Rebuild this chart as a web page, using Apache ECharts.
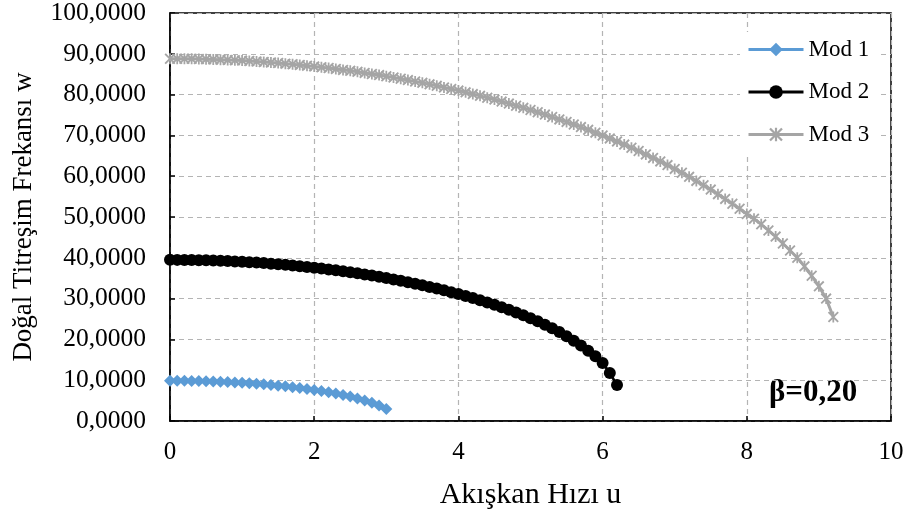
<!DOCTYPE html>
<html>
<head>
<meta charset="utf-8">
<script src="https://cdn.jsdelivr.net/npm/echarts@6/dist/echarts.min.js"></script>
<style>
  html, body { margin: 0; padding: 0; background: #fff; }
  #chart { width: 912px; height: 519px; }
</style>
</head>
<body>
<div id="chart"></div>
<script>
// Flow speed samples (shared by all modes; each mode uses the first N entries)
const speed = [
  0.0, 0.1, 0.2, 0.3, 0.4, 0.5, 0.6, 0.7, 0.8, 0.9,
  1.0, 1.1, 1.2, 1.3, 1.4, 1.5, 1.6, 1.7, 1.8, 1.9,
  2.0, 2.1, 2.2, 2.3, 2.4, 2.5, 2.6, 2.7, 2.8, 2.9,
  3.0, 3.1, 3.2, 3.3, 3.4, 3.5, 3.6, 3.7, 3.8, 3.9,
  4.0, 4.1, 4.2, 4.3, 4.4, 4.5, 4.6, 4.7, 4.8, 4.9,
  5.0, 5.1, 5.2, 5.3, 5.4, 5.5, 5.6, 5.7, 5.8, 5.9,
  6.0, 6.1, 6.2, 6.3, 6.4, 6.5, 6.6, 6.7, 6.8, 6.9,
  7.0, 7.1, 7.2, 7.3, 7.4, 7.5, 7.6, 7.7, 7.8, 7.9,
  8.0, 8.1, 8.2, 8.3, 8.4, 8.5, 8.6, 8.7, 8.8, 8.9,
  9.0, 9.1, 9.2
];

// Natural frequencies per mode
const mod1 = [
  9.87, 9.87, 9.85, 9.83, 9.79, 9.74, 9.69, 9.62, 9.54, 9.46,
  9.36, 9.25, 9.12, 8.99, 8.84, 8.67, 8.49, 8.30, 8.09, 7.86,
  7.61, 7.34, 7.05, 6.72, 6.37, 5.98, 5.54, 5.05, 4.48, 3.80,
  2.93
];
const mod2 = [
  39.50, 39.49, 39.48, 39.45, 39.42, 39.38, 39.33, 39.27, 39.20, 39.12,
  39.03, 38.93, 38.82, 38.70, 38.57, 38.43, 38.28, 38.12, 37.95, 37.77,
  37.58, 37.37, 37.16, 36.94, 36.70, 36.45, 36.19, 35.92, 35.64, 35.34,
  35.03, 34.70, 34.37, 34.02, 33.65, 33.27, 32.87, 32.46, 32.03, 31.58,
  31.11, 30.63, 30.12, 29.60, 29.05, 28.47, 27.88, 27.25, 26.60, 25.92,
  25.20, 24.42, 23.60, 22.73, 21.80, 20.78, 19.67, 18.48, 17.23, 15.85,
  14.24, 11.77, 8.80
];
const mod3 = [
  88.80, 88.79, 88.78, 88.76, 88.72, 88.68, 88.63, 88.57, 88.50, 88.42,
  88.33, 88.23, 88.12, 88.00, 87.88, 87.74, 87.59, 87.44, 87.27, 87.09,
  86.91, 86.71, 86.51, 86.29, 86.06, 85.83, 85.58, 85.32, 85.06, 84.78,
  84.49, 84.19, 83.88, 83.55, 83.22, 82.88, 82.52, 82.15, 81.77, 81.38,
  80.98, 80.56, 80.13, 79.69, 79.23, 78.77, 78.29, 77.79, 77.28, 76.76,
  76.22, 75.67, 75.10, 74.52, 73.92, 73.31, 72.68, 72.03, 71.36, 70.68,
  69.98, 69.26, 68.52, 67.75, 66.97, 66.17, 65.34, 64.49, 63.62, 62.72,
  61.79, 60.84, 59.85, 58.84, 57.79, 56.71, 55.60, 54.44, 53.25, 52.01,
  50.72, 49.60, 48.20, 46.70, 45.20, 43.50, 41.80, 40.00, 37.90, 35.60,
  33.00, 30.00, 25.50
];

const seriesNames = ['Mod 1', 'Mod 2', 'Mod 3'];
const yTickLabels = ['0,0000', '10,0000', '20,0000', '30,0000', '40,0000', '50,0000',
                     '60,0000', '70,0000', '80,0000', '90,0000', '100,0000'];
const xTickLabels = ['0', '2', '4', '6', '8', '10'];
const xTitle = 'Akışkan Hızı u';
const yTitle = 'Doğal Titreşim Frekansı w';
const betaLabel = 'β=0,20';

const FONT = '"Liberation Serif", "Times New Roman", serif';

// Asterisk marker built from three filled bars (vertical + two diagonals)
const asterisk = 'path://M4.2,0 H5.8 V10 H4.2 Z M0,1.2 L1.2,0 L10,8.8 L8.8,10 Z M8.8,0 L10,1.2 L1.2,10 L0,8.8 Z';

function pairs(values) {
  return values.map((v, i) => [speed[i], v]);
}

const chart = echarts.init(document.getElementById('chart'), null, { renderer: 'canvas' });

const gridLine = { show: true, lineStyle: { color: '#b4b4b4', width: 1.2, type: [5, 4] } };

chart.setOption({
  animation: false,
  backgroundColor: '#fff',
  grid: {
    left: 170, right: 21, top: 12, bottom: 98,
    show: true, borderColor: '#000', borderWidth: 1.5, backgroundColor: 'transparent'
  },
  xAxis: {
    type: 'value', min: 0, max: 10, interval: 2,
    name: xTitle, nameLocation: 'middle', nameGap: 59,
    nameTextStyle: { fontFamily: FONT, fontSize: 30, color: '#000' },
    axisLine: { show: true, lineStyle: { color: '#000', width: 1.5 } },
    axisTick: { show: true, inside: true, length: 5, lineStyle: { color: '#000', width: 1.5 } },
    axisLabel: {
      margin: 19, fontFamily: FONT, fontSize: 25, color: '#000',
      formatter: v => xTickLabels[Math.round(v / 2)]
    },
    splitLine: gridLine
  },
  yAxis: {
    type: 'value', min: 0, max: 100, interval: 10,
    name: yTitle, nameLocation: 'middle', nameGap: 133,
    nameTextStyle: { fontFamily: FONT, fontSize: 27, color: '#000' },
    axisLine: { show: true, lineStyle: { color: '#000', width: 1.5 } },
    axisTick: { show: true, inside: true, length: 5, lineStyle: { color: '#000', width: 1.5 } },
    axisLabel: {
      margin: 24, fontFamily: FONT, fontSize: 25.5, color: '#000',
      formatter: v => yTickLabels[Math.round(v / 10)]
    },
    splitLine: gridLine
  },
  legend: {
    data: seriesNames,
    orient: 'vertical',
    left: 740, top: 32,
    padding: [6, 8, 8, 7],
    backgroundColor: '#fff',
    itemWidth: 55, itemHeight: 17, itemGap: 19.5,
    lineStyle: { width: 3 },
    textStyle: { fontFamily: FONT, fontSize: 23, color: '#000' }
  },
  graphic: [{
    type: 'text', left: 769, top: 377,
    style: { text: betaLabel, fontFamily: FONT, fontSize: 31, fontWeight: 'bold', fill: '#000' }
  }],
  series: [
    {
      name: seriesNames[0], type: 'line', data: pairs(mod1),
      symbol: 'diamond', symbolSize: [12, 12], showAllSymbol: true,
      itemStyle: { color: '#5b9bd5' },
      lineStyle: { color: '#5b9bd5', width: 3 }
    },
    {
      name: seriesNames[1], type: 'line', data: pairs(mod2),
      symbol: 'circle', symbolSize: 12, showAllSymbol: true,
      itemStyle: { color: '#000' },
      lineStyle: { color: '#000', width: 2.6 }
    },
    {
      name: seriesNames[2], type: 'line', data: pairs(mod3),
      symbol: asterisk, symbolSize: 11, showAllSymbol: true,
      itemStyle: { color: '#a5a5a5' },
      lineStyle: { color: '#a5a5a5', width: 3 }
    }
  ]
});
</script>
</body>
</html>
